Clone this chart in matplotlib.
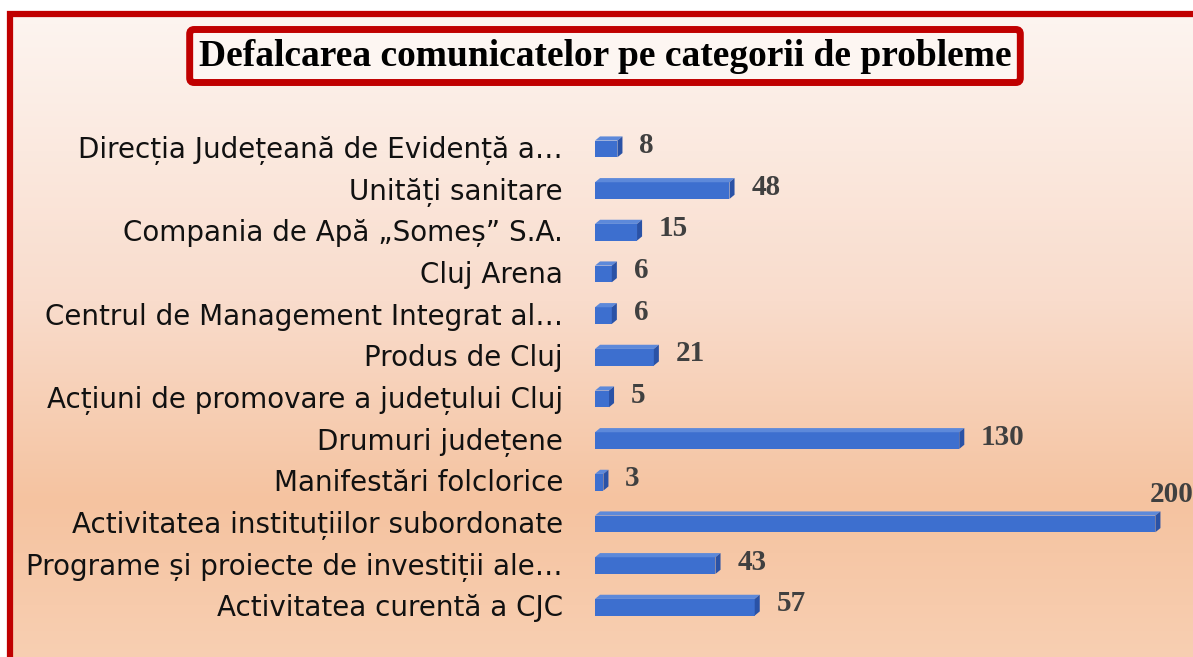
import numpy as np
import matplotlib
matplotlib.use("Agg")
import matplotlib.pyplot as plt
from matplotlib.patches import Polygon, Rectangle

W, H = 1193, 657

categories = [
    "Direcția Județeană de Evidență a…",
    "Unități sanitare",
    "Compania de Apă „Someș” S.A.",
    "Cluj Arena",
    "Centrul de Management Integrat al…",
    "Produs de Cluj",
    "Acțiuni de promovare a județului Cluj",
    "Drumuri județene",
    "Manifestări folclorice",
    "Activitatea instituțiilor subordonate",
    "Programe și proiecte de investiții ale…",
    "Activitatea curentă a CJC",
]
values = [8, 48, 15, 6, 6, 21, 5, 130, 3, 200, 43, 57]
title = "Defalcarea comunicatelor pe categorii de probleme"

RED = "#c00000"
FRONT = "#3d6fcf"
TOP = "#5d89da"
SIDE = "#2a52a6"


def background() -> np.ndarray:
    # vertical gradient: pale at top, peach lower down
    stops_y = [0, 300, 500, 657]
    stops_c = [(253, 246, 242), (249, 220, 204), (245, 195, 160), (248, 207, 178)]
    ys = np.arange(H)
    cols = np.stack([np.interp(ys, stops_y, [c[k] for c in stops_c]) for k in range(3)], axis=1)
    img = np.repeat(cols[:, None, :], W, axis=1) / 255.0
    img[:11, :, :] = 1.0
    img[:, :7, :] = 1.0
    return img


fig = plt.figure(figsize=(W / 100, H / 100), dpi=100)
fig.figimage(background(), xo=0, yo=0, origin="upper", zorder=0)

# outer red frame (only top and left visible)
fig.add_artist(Rectangle((10 / W, -0.2), 2, 1.2 - 14 / H, transform=fig.transFigure,
                         fill=False, edgecolor=RED, lw=4.5, zorder=1))

fig.text(605 / W, 1 - 56 / H, title, ha="center", va="center", fontsize=27,
         fontweight="bold", family="Liberation Serif", color="black", zorder=3,
         bbox=dict(boxstyle="round,pad=0.24,rounding_size=0.12", fc="#fdf6f2",
                   ec=RED, lw=5))

ax = fig.add_axes([595 / W, 31 / H, 580 / W, 500 / H], zorder=2)
ax.patch.set_alpha(0)
ax.set_xlim(0, 207)
ax.set_ylim(len(values) - 0.5, -0.5)

dx, dy = 1.8, 0.1
half = 0.25
for i, v in enumerate(values):
    yt = i - half + dy
    yb = i + half
    ax.add_patch(Rectangle((0, yt), v, yb - yt, facecolor=FRONT, edgecolor="none"))
    ax.add_patch(Polygon([(0, yt), (dx, yt - dy), (v + dx, yt - dy), (v, yt)],
                         closed=True, facecolor=TOP, edgecolor="none"))
    ax.add_patch(Polygon([(v, yt), (v + dx, yt - dy), (v + dx, yb - dy), (v, yb)],
                         closed=True, facecolor=SIDE, edgecolor="none"))
    if v == max(values):
        ax.annotate(str(v), (v + dx, i), xytext=(-8, 20), textcoords="offset points",
                    ha="left", va="center", fontsize=21, fontweight="bold",
                    family="Liberation Serif", color="#404040", annotation_clip=False)
    else:
        ax.annotate(str(v), (v + dx, i), xytext=(12, 1), textcoords="offset points",
                    ha="left", va="center", fontsize=21, fontweight="bold",
                    family="Liberation Serif", color="#404040")

ax.set_yticks(range(len(categories)))
ax.set_yticklabels(categories, fontsize=20, family="DejaVu Sans", color="#111111")
ax.tick_params(axis="y", length=0, pad=23)
ax.set_xticks([])
for s in ax.spines.values():
    s.set_visible(False)

fig.savefig("out.png", dpi=100)
